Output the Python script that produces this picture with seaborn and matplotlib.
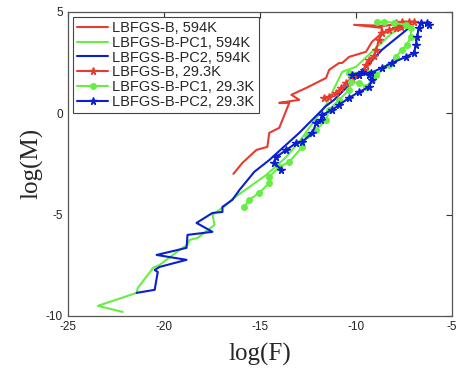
import numpy as np
import pandas as pd
import matplotlib
matplotlib.use("Agg")
import matplotlib.pyplot as plt
import seaborn as sns

# 데이터: log(F), log(M) 값
red_line_x = [-16.38, -15.91, -15.18, -14.61, -14.51, -13.99, -13.47, -13.99, -12.95, -13.36,
              -12.58, -11.55, -11.39, -10.87, -10.71, -10.35, -9.47, -9.16, -8.69, -8.64,
              -10.09, -8.53, -7.75, -7.13]
red_line_y = [-2.99, -2.45, -1.81, -1.66, -0.97, -0.72, 0.51, 0.51, 0.66, 0.91,
              1.25, 1.74, 2.14, 2.48, 2.48, 2.78, 3.03, 3.52, 3.91, 4.21,
              4.36, 4.31, 4.41, 4.46]

green_line_x = [-22.14, -23.44, -21.42, -21.36, -20.64, -20.58, -20.22, -19.18, -18.77, -18.66,
                -18.25, -17.36, -17.47, -16.74, -16.43, -15.91, -14.66, -13.62, -12.95, -12.43,
                -11.55, -10.71, -9.99, -9.05, -8.12, -7.39, -7.08]
green_line_y = [-9.80, -9.50, -8.86, -8.62, -7.73, -7.63, -7.48, -6.74, -6.49, -6.25,
                -6.15, -5.51, -5.01, -4.52, -4.23, -3.88, -3.04, -2.15, -1.41, -0.72,
                0.41, 2.04, 2.29, 3.13, 3.96, 4.26, 4.46]

blue_line_x = [-7.23, -8.64, -9.99, -11.13, -11.55, -12.95, -14.50, -15.29, -16.06, -16.43,
               -16.95, -16.95, -17.47, -18.30, -17.47, -18.77, -18.82, -20.38, -18.82, -20.22,
               -20.48, -20.32, -20.48, -21.42]
blue_line_y = [4.21, 3.13, 1.74, 0.66, 0.36, -0.97, -2.30, -2.89, -3.78, -4.27,
               -4.62, -4.87, -4.92, -5.41, -5.85, -6.00, -6.64, -6.99, -7.23, -7.58,
               -7.73, -7.83, -8.71, -8.86]

red_mk_x = [-11.65, -11.39, -11.03, -10.77, -10.51, -10.19, -9.83, -9.57, -9.47, -9.31,
            -9.05, -8.95, -8.79, -8.64, -8.27, -7.91, -7.65, -7.91, -7.60, -7.23, -6.97]
red_mk_y = [0.76, 0.81, 1.00, 1.25, 1.50, 1.74, 1.89, 2.14, 2.39, 2.63,
            2.83, 3.13, 3.62, 3.96, 4.11, 4.21, 4.26, 4.46, 4.51, 4.51, 4.51]

green_mk_x = [-15.81, -15.55, -15.03, -14.51, -14.51, -13.99, -13.47, -12.79, -12.53, -12.06,
              -11.55, -11.39, -10.87, -10.35, -10.25, -9.83, -9.47, -9.16, -9.31, -10.35,
              -8.95, -8.27, -7.91, -7.60, -7.34, -7.13, -7.13, -7.39, -8.01, -8.53, -8.90]
green_mk_y = [-4.62, -4.27, -3.93, -3.44, -3.14, -2.65, -2.40, -1.66, -1.07, -0.82,
              -0.33, 0.17, 0.66, 1.15, 1.55, 1.50, 1.30, 1.65, 1.99, 1.99,
              1.89, 2.39, 2.78, 3.13, 3.37, 3.77, 4.21, 4.36, 4.46, 4.51, 4.51]

blue_mk_x = [-13.88, -14.25, -14.14, -13.62, -13.10, -12.79, -12.27, -12.06, -11.81, -11.75,
             -11.23, -10.87, -10.35, -9.83, -9.31, -9.16, -9.31, -9.68, -10.19, -9.83,
             -9.21, -8.64, -8.12, -7.39, -6.97, -6.87, -6.82, -6.71, -6.61, -6.30, -6.19]
blue_mk_y = [-2.79, -2.45, -2.15, -1.81, -1.46, -1.41, -0.97, -0.48, -0.33, -0.08,
             0.17, 0.41, 0.76, 1.05, 1.30, 1.65, 1.89, 2.04, 1.89, 1.89,
             1.99, 2.24, 2.48, 2.78, 2.98, 3.37, 3.77, 4.21, 4.46, 4.46, 4.36]

RED = '#e63b2e'
GREEN = '#66ee44'
BLUE = '#0a1fd0'

sns.set_style("white")
plt.rcParams['font.family'] = ['Liberation Sans', 'DejaVu Sans']
plt.rcParams['axes.unicode_minus'] = False

fig = plt.figure(figsize=(4.62, 3.70), dpi=100)
ax = fig.add_axes([0.147, 0.146, 0.831, 0.822])

series = [
    ('LBFGS-B, 594K', red_line_x, red_line_y, RED, None),
    ('LBFGS-B-PC1, 594K', green_line_x, green_line_y, GREEN, None),
    ('LBFGS-B-PC2, 594K', blue_line_x, blue_line_y, BLUE, None),
    ('LBFGS-B, 29.3K', red_mk_x, red_mk_y, RED, '*'),
    ('LBFGS-B-PC1, 29.3K', green_mk_x, green_mk_y, GREEN, 'o'),
    ('LBFGS-B-PC2, 29.3K', blue_mk_x, blue_mk_y, BLUE, '*'),
]

for name, xs, ys, c, mk in series:
    df = pd.DataFrame({'logF': xs, 'logM': ys})
    if mk is None:
        sns.lineplot(data=df, x='logF', y='logM', sort=False, estimator=None,
                     color=c, linewidth=1.5, label=name, ax=ax)
    else:
        ms = 5.5 if mk == '*' else 4
        sns.lineplot(data=df, x='logF', y='logM', sort=False, estimator=None,
                     color=c, linewidth=1.5, marker=mk, markersize=ms,
                     markeredgecolor=c, markeredgewidth=1.0, label=name, ax=ax)

ax.set_xlim(-25, -5)
ax.set_ylim(-10, 5)
ax.set_xticks([-25, -20, -15, -10, -5])
ax.set_yticks([-10, -5, 0, 5])
ax.tick_params(direction='in', length=4, width=0.8, labelsize=8.5, colors='#333333',
               top=True, right=True, labelcolor='#222222')
for s in ax.spines.values():
    s.set_color('#555555')
    s.set_linewidth(0.9)

ax.set_xlabel('log(F)', family=['Liberation Serif'], fontsize=18, labelpad=7)
ax.set_ylabel('log(M)', family=['Liberation Serif'], fontsize=18, labelpad=2)

leg = ax.legend(loc='upper left', bbox_to_anchor=(0.013, 0.984), borderaxespad=0,
                fontsize=10.5, handlelength=2.1, handletextpad=0.3, labelspacing=0.05,
                borderpad=0.3, fancybox=False, framealpha=1, edgecolor='#444444')
leg.get_frame().set_linewidth(0.8)

plt.savefig('out.png', dpi=100)
